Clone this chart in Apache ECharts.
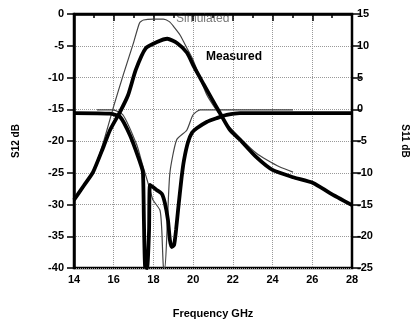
<!DOCTYPE html>
<html>
<head>
<meta charset="utf-8">
<script src="https://cdn.jsdelivr.net/npm/echarts@6/dist/echarts.min.js"></script>
<style>
html,body{margin:0;padding:0;background:#fff;}
#chart{width:411px;height:323px;}
</style>
</head>
<body>
<div id="chart"></div>
<script>
// X axis ticks (GHz)
var xTicks = [14, 16, 18, 20, 22, 24, 26, 28];
var s12Ticks = [0, -5, -10, -15, -20, -25, -30, -35, -40];
var s11Ticks = [15, 10, 5, 0, -5, -10, -15, -20, -25];

// Measured S12 (left axis, dB)
var measS12Freq = [14.0, 14.5, 14.96, 15.46, 15.81, 16.32, 16.72, 17.11, 17.61, 18.18, 18.7, 19.2, 19.69, 20.04, 20.5, 20.95, 21.35, 21.86, 22.36, 23.17, 24.02, 25.03, 26.04, 26.89, 28.0];
var measS12     = [-29.3, -27.0, -24.9, -21.1, -18.3, -15.4, -12.8, -8.8, -5.4, -4.4, -3.9, -4.6, -6.1, -8.3, -10.9, -13.4, -15.6, -18.3, -19.8, -22.5, -24.6, -25.7, -26.6, -28.2, -30.1];

// Simulated S12 (left axis, dB)
var simS12Freq = [15.0, 15.5, 16.0, 16.5, 17.0, 17.3, 17.5, 18.0, 18.5, 18.8, 19.0, 19.34, 19.69, 19.99, 20.35, 20.7, 21.1, 21.6, 22.36, 23.17, 23.72, 24.37, 25.03];
var simS12     = [-24.9, -20.0, -14.5, -9.4, -4.5, -1.4, -0.95, -0.8, -0.8, -1.2, -1.9, -3.3, -5.4, -7.2, -10.1, -12.8, -14.8, -17.0, -19.5, -21.9, -23.0, -24.1, -24.9];

// Measured S11 (right axis, dB)
var measS11Freq = [14.0, 15.81, 16.32, 16.82, 17.32, 17.47, 17.52, 17.58, 17.68, 17.78, 17.83, 18.16, 18.42, 18.58, 18.73, 18.83, 18.92, 19.04, 19.14, 19.24, 19.42, 19.54, 19.74, 19.94, 20.18, 20.68, 21.19, 21.69, 22.36, 28.0];
var measS11     = [-0.6, -0.7, -1.2, -4.1, -8.3, -9.9, -17.4, -24.8, -25.0, -19.0, -11.9, -12.7, -13.3, -14.8, -17.4, -20.6, -21.7, -21.4, -19.0, -15.9, -10.7, -8.0, -5.2, -3.7, -3.0, -2.0, -1.4, -0.9, -0.6, -0.6];

// Simulated S11 (right axis, dB)
var simS11Freq = [15.16, 15.96, 16.47, 17.16, 17.41, 17.83, 17.98, 18.33, 18.42, 18.5, 18.58, 18.7, 18.83, 19.17, 19.68, 19.99, 20.35, 25.03];
var simS11     = [-0.1, -0.1, -0.9, -5.6, -8.3, -12.7, -14.3, -15.9, -19.0, -24.8, -25.0, -18.0, -10.0, -4.8, -3.3, -0.9, -0.1, -0.1];

function pairs(xs, ys) { return xs.map(function (x, i) { return [x, ys[i]]; }); }

var chart = echarts.init(document.getElementById('chart'), null, {renderer: 'canvas'});
var fontFam = 'Liberation Sans, Arial, sans-serif';
var option = {
  animation: false,
  backgroundColor: '#fff',
  grid: {left: 74, right: 59, top: 14, bottom: 55, show: true, borderColor: '#000', borderWidth: 2.5,
         containLabel: false, outerBoundsMode: 'none'},
  xAxis: {
    type: 'value', min: xTicks[0], max: xTicks[xTicks.length - 1], interval: 2,
    name: 'Frequency GHz', nameLocation: 'middle', nameGap: 40,
    nameTextStyle: {fontFamily: fontFam, fontWeight: 'bold', fontSize: 11, color: '#000'},
    axisLine: {show: true, lineStyle: {color: '#000', width: 2.5}},
    axisTick: {show: true, inside: false, length: 7, lineStyle: {color: '#000', width: 1.5}},
    minorTick: {show: true, splitNumber: 2, length: 4, lineStyle: {color: '#000', width: 1.5}},
    axisLabel: {fontFamily: fontFam, fontWeight: 'bold', fontSize: 11, color: '#000', margin: 6},
    splitLine: {show: true, lineStyle: {color: '#999', type: 'dotted', width: 1}}
  },
  yAxis: [{
    type: 'value', min: -40, max: 0, interval: 5, position: 'left',
    name: 'S12 dB', nameLocation: 'middle', nameGap: 53,
    nameTextStyle: {fontFamily: fontFam, fontWeight: 'bold', fontSize: 10, color: '#000'},
    axisLine: {show: true, lineStyle: {color: '#000', width: 2.5}},
    axisTick: {show: true, inside: false, length: 7, lineStyle: {color: '#000', width: 1.5}},
    axisLabel: {fontFamily: fontFam, fontWeight: 'bold', fontSize: 11, color: '#000', margin: 10},
    splitLine: {show: true, lineStyle: {color: '#999', type: 'dotted', width: 1}}
  }, {
    type: 'value', min: -25, max: 15, interval: 5, position: 'right',
    name: 'S11 dB', nameLocation: 'middle', nameGap: 48, nameRotate: -90,
    nameTextStyle: {fontFamily: fontFam, fontWeight: 'bold', fontSize: 10, color: '#000'},
    axisLine: {show: true, lineStyle: {color: '#000', width: 2}},
    axisTick: {show: true, inside: false, length: 9, lineStyle: {color: '#000', width: 1.5}},
    axisLabel: {fontFamily: fontFam, fontWeight: 'bold', fontSize: 11, color: '#000', margin: 5},
    splitLine: {show: false}
  }],
  series: [{
    name: 'Simulated S12', type: 'line', yAxisIndex: 0, showSymbol: false, smooth: 0.2,
    lineStyle: {color: '#444', width: 1.2}, data: pairs(simS12Freq, simS12)
  }, {
    name: 'Simulated S11', type: 'line', yAxisIndex: 1, showSymbol: false, smooth: 0.2,
    lineStyle: {color: '#444', width: 1.2}, data: pairs(simS11Freq, simS11)
  }, {
    name: 'Measured S12', type: 'line', yAxisIndex: 0, showSymbol: false, smooth: 0.2,
    lineStyle: {color: '#000', width: 3.8}, data: pairs(measS12Freq, measS12)
  }, {
    name: 'Measured S11', type: 'line', yAxisIndex: 1, showSymbol: false, smooth: 0.2,
    lineStyle: {color: '#000', width: 3.8}, data: pairs(measS11Freq, measS11)
  }],
  graphic: [{
    type: 'text', left: 176, top: 13,
    style: {text: 'Simulated', fontFamily: fontFam, fontSize: 12, fill: '#777'}
  }, {
    type: 'text', left: 206, top: 51,
    style: {text: 'Measured', fontFamily: fontFam, fontSize: 12, fontWeight: 'bold', fill: '#000'}
  }]
};
chart.setOption(option);
</script>
</body>
</html>
